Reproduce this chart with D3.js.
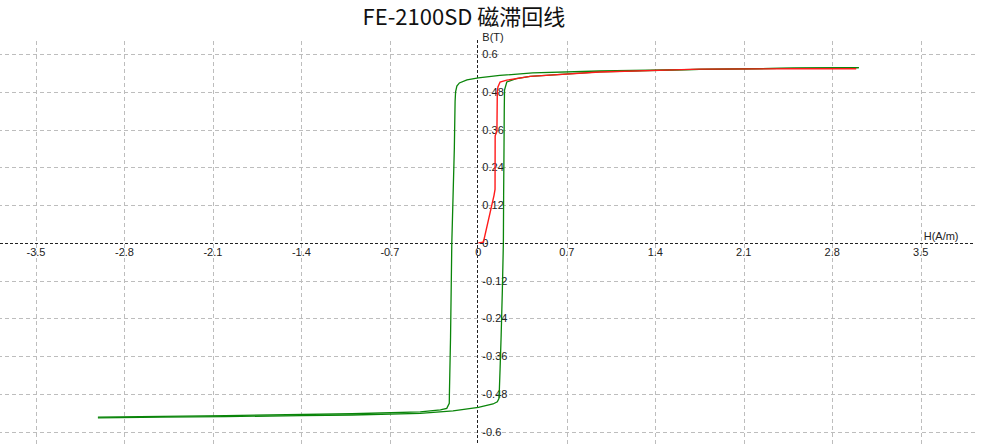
<!DOCTYPE html>
<head>
<meta charset="utf-8">
<script src="https://cdn.jsdelivr.net/npm/d3@7/dist/d3.min.js"></script>
<style>
body { margin: 0; background: #fff; font: 11px "Liberation Sans", Arial, sans-serif; }

.grid line {
  stroke: #bdbdbd;
  stroke-dasharray: 4,3;
  shape-rendering: crispEdges;
}
.grid path { stroke-width: 0; }

.zero {
  stroke: #222;
  stroke-dasharray: 3,2;
  shape-rendering: crispEdges;
}

.tick-label { fill: #222; font-size: 11px; }

.loop { fill: none; stroke: #0a850a; stroke-width: 1.3px; }
.initial { fill: none; stroke: #ff1a1a; stroke-width: 1.4px; }
</style>
<body>
<div id="chart"></div>
<script>

// tick values
var xTicks = [-3.5, -2.8, -2.1, -1.4, -0.7, 0, 0.7, 1.4, 2.1, 2.8, 3.5];
var yTicks = [-0.6, -0.48, -0.36, -0.24, -0.12, 0, 0.12, 0.24, 0.36, 0.48, 0.6];

// hysteresis loop, ascending branch [H, B]
var ascending = [
  [-3.01, -0.556], [-2.5, -0.554], [-2.0, -0.552], [-1.4, -0.549], [-1.0, -0.547],
  [-0.46, -0.542], [-0.2, -0.534], [0, -0.523], [0.116, -0.512], [0.15, -0.505],
  [0.163, -0.495], [0.166, -0.47], [0.172, -0.40], [0.18, -0.30], [0.19, -0.15],
  [0.198, 0], [0.2, 0.15], [0.203, 0.3], [0.205, 0.42], [0.207, 0.485],
  [0.225, 0.511], [0.3, 0.522], [0.41, 0.529], [0.96, 0.543], [1.75, 0.551],
  [2.5, 0.555], [3.01, 0.557]
];

// descending branch [H, B]
var descending = [
  [3.01, 0.557], [2.5, 0.555], [1.75, 0.551], [0.96, 0.546], [0.43, 0.54],
  [0.17, 0.532], [0, 0.524], [-0.09, 0.518], [-0.15, 0.508], [-0.17, 0.498],
  [-0.18, 0.48], [-0.184, 0.45], [-0.19, 0.3], [-0.2, 0.15], [-0.21, 0],
  [-0.215, -0.15], [-0.22, -0.3], [-0.226, -0.42], [-0.229, -0.48], [-0.23, -0.51],
  [-0.25, -0.526], [-0.3, -0.531], [-0.46, -0.537], [-1.0, -0.543], [-2.0, -0.549],
  [-3.01, -0.554]
];

// initial magnetization curve [H, B]
var initial = [
  [0, 0], [0.04, 0.002], [0.124, 0.151], [0.132, 0.17], [0.133, 0.34],
  [0.147, 0.355], [0.15, 0.48], [0.155, 0.495], [0.172, 0.511], [0.225, 0.517],
  [0.41, 0.529], [0.96, 0.543], [1.75, 0.552], [2.5, 0.553], [2.99, 0.553]
];

var width = 981, height = 444;
var plot = {left: 0, right: 975, top: 40, bottom: 444};

var x = d3.scaleLinear().domain([-3.5, 3.5]).range([36, 920.7]);
var y = d3.scaleLinear().domain([-0.6, 0.6]).range([431.7, 54]);

var svg = d3.select("#chart").append("svg")
    .attr("width", width)
    .attr("height", height);

// title
svg.append("text")
    .attr("x", 464)
    .attr("y", 25)
    .attr("text-anchor", "middle")
    .style("font-family", "'Noto Sans CJK SC', sans-serif")
    .style("font-size", "22px")
    .style("fill", "#111")
    .text("FE-2100SD 磁滞回线");

// vertical gridlines
svg.append("g")
    .attr("class", "grid")
    .attr("transform", "translate(0," + plot.bottom + ")")
    .call(d3.axisBottom(x)
        .tickValues(xTicks.filter(function(d) { return d !== 0; }))
        .tickSize(-(plot.bottom - plot.top))
        .tickFormat(""));

// horizontal gridlines
svg.append("g")
    .attr("class", "grid")
    .attr("transform", "translate(" + plot.right + ",0)")
    .call(d3.axisLeft(y)
        .tickValues(yTicks.filter(function(d) { return d !== 0; }))
        .tickSize(plot.right - plot.left)
        .tickFormat(""));

// zero axes
svg.append("line").attr("class", "zero")
    .attr("x1", plot.left).attr("x2", plot.right)
    .attr("y1", Math.round(y(0)) + 0.5).attr("y2", Math.round(y(0)) + 0.5);
svg.append("line").attr("class", "zero")
    .attr("x1", Math.round(x(0)) - 0.5).attr("x2", Math.round(x(0)) - 0.5)
    .attr("y1", plot.top).attr("y2", plot.bottom);

// x tick labels
svg.append("g").selectAll("text")
    .data(xTicks)
  .enter().append("text")
    .attr("class", "tick-label")
    .attr("x", function(d) { return x(d); })
    .attr("y", y(0) + 13)
    .attr("text-anchor", "middle")
    .text(function(d) { return String(d); });

// y tick labels
svg.append("g").selectAll("text")
    .data(yTicks)
  .enter().append("text")
    .attr("class", "tick-label")
    .attr("x", x(0) + 4)
    .attr("y", function(d) { return y(d) + 4; })
    .text(function(d) { return String(d); });

// axis titles
svg.append("text").attr("class", "tick-label")
    .attr("x", x(0) + 4).attr("y", 41)
    .text("B(T)");
svg.append("text").attr("class", "tick-label")
    .attr("x", x(3.5) + 3).attr("y", y(0) - 3)
    .text("H(A/m)");

var line = d3.line()
    .x(function(d) { return x(d[0]); })
    .y(function(d) { return y(d[1]); });

svg.append("path").datum(ascending).attr("class", "loop").attr("d", line);
svg.append("path").datum(descending).attr("class", "loop").attr("d", line);
svg.append("path").datum(initial).attr("class", "initial").attr("d", line);

</script>
</body>
